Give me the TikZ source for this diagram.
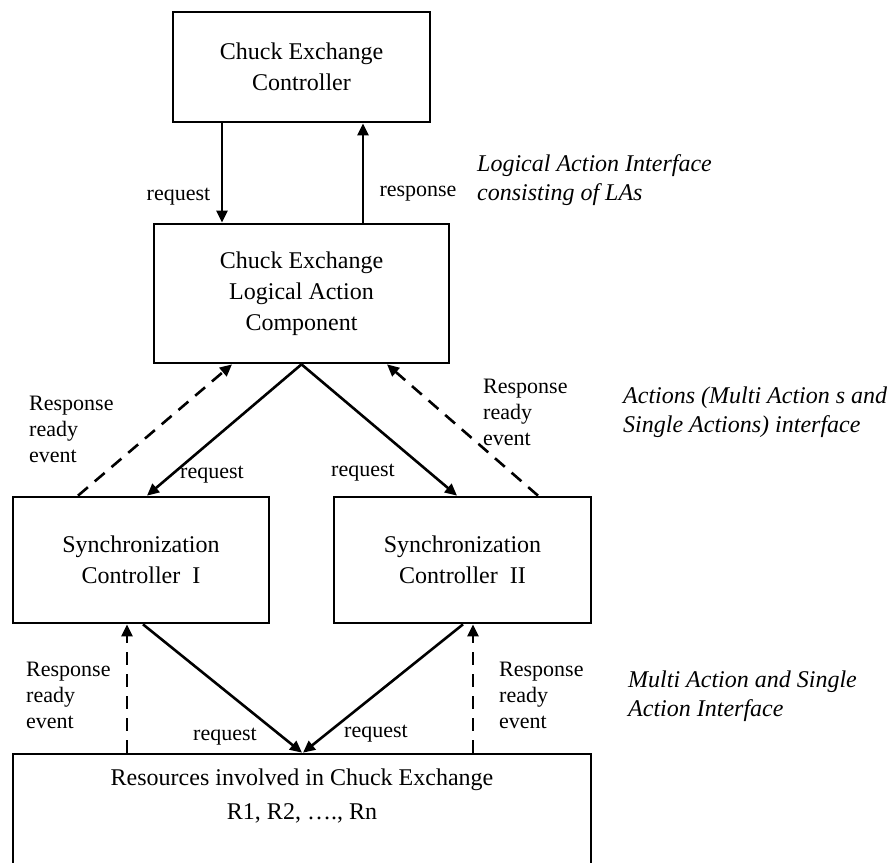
\documentclass[tikz,border=0pt]{standalone}
\usepackage{fontspec}
\setmainfont{Liberation Serif}
\usetikzlibrary{arrows.meta}

\tikzset{
  box/.style={draw, line width=2.7pt, inner sep=0pt, align=center,
              font=\fontsize{24}{31}\selectfont},
  lbl/.style={inner sep=0pt, align=left, font=\fontsize{22}{26}\selectfont},
  note/.style={inner sep=0pt, align=left, anchor=west,
               font=\fontsize{24}{29}\selectfont\itshape},
  arr/.style={line width=2.6pt, -{Triangle[length=12pt,width=11pt]}},
  evt/.style={arr, dash pattern=on 13pt off 9pt}
}

\begin{document}
\begin{tikzpicture}[x=1pt,y=-1pt]
  \path[use as bounding box] (0,0) rectangle (894,862);
  \clip (0,0) rectangle (894,862);

  % components
  \node[box, minimum width=257pt, minimum height=110pt] (cec) at (301.5,67)
    {Chuck Exchange\\Controller};
  \node[box, minimum width=295pt, minimum height=139pt] (lac) at (301.5,293.5)
    {Chuck Exchange\\Logical Action\\Component};
  \node[box, minimum width=256pt, minimum height=126pt] (sc1) at (141,560)
    {Synchronization\\Controller~ I};
  \node[box, minimum width=257pt, minimum height=126pt] (sc2) at (462.5,560)
    {Synchronization\\Controller~ II};
  \node[box, minimum width=578pt, minimum height=150pt] (res) at (302,829) {};
  \node[inner sep=0pt, align=center, font=\fontsize{24}{34}\selectfont]
    (restext) at (302,796) {Resources involved in Chuck Exchange\\R1, R2, \dots., Rn};

  % logical action interface
  \draw[arr] ([xshift=-79.5pt]cec.south) -- ([xshift=-79.5pt]lac.north);
  \draw[arr] ([xshift=61.5pt]lac.north) -- ([xshift=61.5pt]cec.south);

  % actions interface
  \draw[arr] (lac.south) -- ([xshift=6pt]sc1.north);
  \draw[arr] (lac.south) -- ([xshift=-5.5pt]sc2.north);
  \draw[evt] ([xshift=-63pt]sc1.north) -- ([xshift=-69.5pt]lac.south);
  \draw[evt] ([xshift=75.5pt]sc2.north) -- ([xshift=85.5pt]lac.south);

  % resource interface
  \draw[arr] ([xshift=2pt]sc1.south) -- (res.north);
  \draw[arr] ([xshift=0.5pt]sc2.south) -- ([xshift=1pt]res.north);
  \draw[evt] ([xshift=-175pt]res.north) -- ([xshift=-14pt]sc1.south);
  \draw[evt] ([xshift=171pt]res.north) -- ([xshift=10.5pt]sc2.south);

  % connector labels
  \node[lbl] (q1) at (178.5,197) {request};
  \node[lbl] (r1) at (418,194) {response};
  \node[lbl, anchor=west] (e1) at (29,429) {Response\\ready\\event};
  \node[lbl] (q2) at (212,475) {request};
  \node[lbl, anchor=west] (e2) at (483,412) {Response\\ready\\event};
  \node[lbl] (q3) at (363,473) {request};
  \node[lbl, anchor=west] (e3) at (26,695) {Response\\ready\\event};
  \node[lbl] (q4) at (225,737) {request};
  \node[lbl] (q5) at (376,734) {request};
  \node[lbl, anchor=west] (e4) at (499,695) {Response\\ready\\event};

  % interface notes
  \node[note] (n1) at (477,180) {Logical Action Interface\\consisting of LAs};
  \node[note] (n2) at (623,412) {Actions (Multi Action s and\\Single Actions) interface};
  \node[note] (n3) at (628,696) {Multi Action and Single\\Action Interface};
\end{tikzpicture}
\end{document}
